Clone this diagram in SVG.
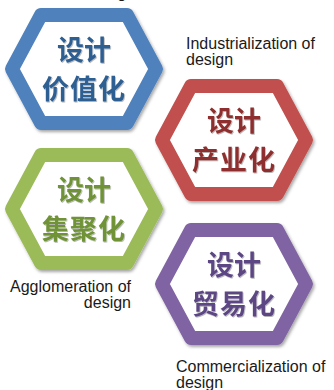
<svg xmlns="http://www.w3.org/2000/svg" width="334" height="390" viewBox="0 0 334 390">
  <defs>
    <filter id="sh" x="-20%" y="-20%" width="140%" height="140%">
      <feDropShadow dx="1.5" dy="2" stdDeviation="1.8" flood-color="#000" flood-opacity="0.35"/>
    </filter>
    <filter id="tsh" x="-10%" y="-10%" width="120%" height="130%">
      <feDropShadow dx="0.8" dy="1" stdDeviation="0.6" flood-color="#000" flood-opacity="0.3"/>
    </filter>
    <path id="hex" d="M-72,0 L-43,-54 L43,-54 L72,0 L43,54 L-43,54 Z"/>
  </defs>
  <style>
    .hex { fill: #ffffff; stroke-width: 14; stroke-linejoin: round; filter: url(#sh); }
    .cn { font-family: "Noto Sans CJK SC", "Noto Sans", sans-serif; font-weight: bold; font-size: 27px; text-anchor: middle; filter: url(#tsh); }
    .lbl { font-family: "Liberation Sans", Arial, sans-serif; font-size: 16px; fill: #1a1a1a; }
  </style>
  <rect width="334" height="390" fill="#ffffff"/>

  <text class="lbl" x="88" y="-2">design</text>

  <g id="node-value" transform="translate(84,69)">
    <use href="#hex" class="hex" stroke="#4f81bd"/>
    <text class="cn" x="0" y="-9" fill="#2f5f92">设计</text>
    <text class="cn" x="0" y="30" fill="#2f5f92" letter-spacing="1">价值化</text>
  </g>

  <g id="node-industry" transform="translate(234,140)">
    <use href="#hex" class="hex" stroke="#c0504d"/>
    <text class="cn" x="0" y="-9" fill="#8f2f2d">设计</text>
    <text class="cn" x="0" y="30" fill="#8f2f2d" letter-spacing="1">产业化</text>
  </g>

  <g id="node-agglomeration" transform="translate(84,209)">
    <use href="#hex" class="hex" stroke="#9bbb59"/>
    <text class="cn" x="0" y="-9" fill="#6f9337">设计</text>
    <text class="cn" x="0" y="30" fill="#6f9337" letter-spacing="1">集聚化</text>
  </g>

  <g id="node-commerce" transform="translate(234,284)">
    <use href="#hex" class="hex" stroke="#8064a2"/>
    <text class="cn" x="0" y="-9" fill="#5c4784">设计</text>
    <text class="cn" x="0" y="30" fill="#5c4784" letter-spacing="1">贸易化</text>
  </g>

  <g id="labels">
    <text class="lbl" x="186" y="49">Industrialization of</text>
    <text class="lbl" x="186" y="65">design</text>
    <text class="lbl" x="131" y="292" text-anchor="end">Agglomeration of</text>
    <text class="lbl" x="131" y="308" text-anchor="end">design</text>
    <text class="lbl" x="176" y="372">Commercialization of</text>
    <text class="lbl" x="176" y="388">design</text>
  </g>
  <g id="connectors"></g>
</svg>
